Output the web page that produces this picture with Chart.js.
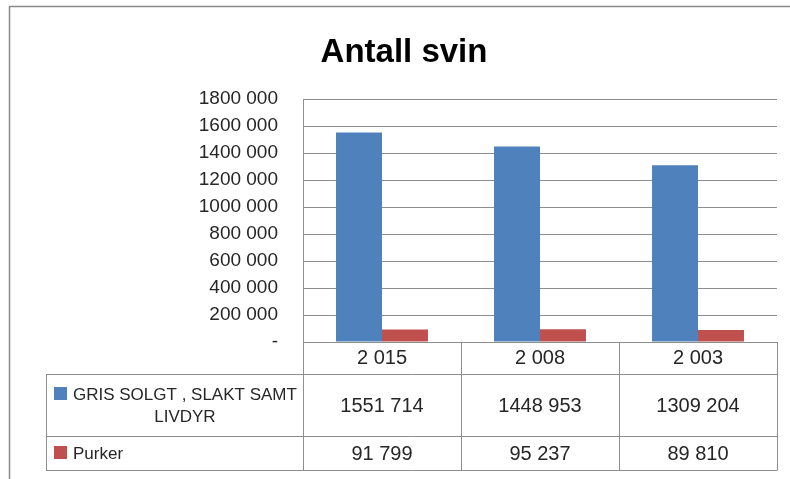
<!DOCTYPE html>
<html>
<head>
<meta charset="utf-8">
<script src="https://cdn.jsdelivr.net/npm/chart.js@4.4.0/dist/chart.umd.min.js"></script>
<style>
  html, body { margin: 0; padding: 0; background: #fff; }
  #wrap { position: relative; width: 790px; height: 479px; }
</style>
</head>
<body>
<div id="wrap"><canvas id="c" width="790" height="479"></canvas></div>
<script>
// data
const years = ['2 015', '2 008', '2 003'];
const grisSolgt = [1551714, 1448953, 1309204];
const purker = [91799, 95237, 89810];
const grisLabel = ['GRIS SOLGT , SLAKT SAMT', 'LIVDYR'];
const purkerLabel = 'Purker';
const chartTitle = 'Antall svin';

const BLUE = '#4F81BD';
const RED = '#C0504D';
const LINE = '#8e8e8e';
const TEXT = '#262626';
const FONT = '"Liberation Sans", Arial, sans-serif';

// Excel style "# ##0" as it shows here: only the last group is split off
function fmt(v) {
    if (v === 0) return '-';
    const hi = Math.floor(v / 1000);
    const lo = String(v % 1000).padStart(3, '0');
    return hi > 0 ? hi + ' ' + lo : String(v % 1000);
}

// frame, title and the data table under the plot
const tablePlugin = {
    id: 'dataTable',
    beforeDraw(chart) {
        const ctx = chart.ctx;
        ctx.save();
        ctx.fillStyle = '#fff';
        ctx.fillRect(0, 0, chart.width, chart.height);
        ctx.strokeStyle = '#8a8a8a';
        ctx.lineWidth = 1.5;
        ctx.beginPath();
        ctx.moveTo(9.5, chart.height);
        ctx.lineTo(9.5, 6.5);
        ctx.lineTo(chart.width, 6.5);
        ctx.stroke();
        ctx.restore();
    },
    afterDraw(chart) {
        const ctx = chart.ctx;
        const x = chart.scales.x;
        const area = chart.chartArea;
        const n = years.length;
        const bounds = [area.left];
        for (let i = 0; i < n - 1; i++) {
            bounds.push((x.getPixelForValue(i) + x.getPixelForValue(i + 1)) / 2);
        }
        bounds.push(area.right);

        const rowTop = area.bottom + 32;
        const rowMid = rowTop + 62;
        const rowBot = rowMid + 34;
        const tableLeft = 46;

        ctx.save();
        ctx.strokeStyle = LINE;
        ctx.lineWidth = 1;
        ctx.beginPath();
        bounds.forEach(b => {
            const bx = Math.round(b) + 0.5;
            ctx.moveTo(bx, area.bottom);
            ctx.lineTo(bx, rowBot);
        });
        [rowTop, rowMid, rowBot].forEach(y => {
            ctx.moveTo(tableLeft, y + 0.5);
            ctx.lineTo(Math.round(area.right) + 0.5, y + 0.5);
        });
        ctx.moveTo(tableLeft + 0.5, rowTop);
        ctx.lineTo(tableLeft + 0.5, rowBot);
        ctx.stroke();

        // values
        ctx.fillStyle = TEXT;
        ctx.font = '20px ' + FONT;
        ctx.textAlign = 'center';
        ctx.textBaseline = 'middle';
        for (let i = 0; i < n; i++) {
            const cx = x.getPixelForValue(i);
            ctx.fillText(fmt(grisSolgt[i]), cx, (rowTop + rowMid) / 2 + 1);
            ctx.fillText(fmt(purker[i]), cx, (rowMid + rowBot) / 2 + 1);
        }

        // series labels with their keys
        ctx.font = '17px ' + FONT;
        ctx.textAlign = 'left';
        ctx.fillStyle = BLUE;
        ctx.fillRect(54, rowTop + 13, 13, 13);
        ctx.fillStyle = TEXT;
        ctx.fillText(grisLabel[0], 73, rowTop + 21);
        const w0 = ctx.measureText(grisLabel[0]).width;
        ctx.textAlign = 'center';
        ctx.fillText(grisLabel[1], 73 + w0 / 2, rowTop + 43);

        ctx.fillStyle = RED;
        ctx.fillRect(54, rowMid + 10, 13, 13);
        ctx.fillStyle = TEXT;
        ctx.textAlign = 'left';
        ctx.fillText(purkerLabel, 73, (rowMid + rowBot) / 2 + 1);

        // title
        ctx.fillStyle = '#000';
        ctx.font = 'bold 33px ' + FONT;
        ctx.textAlign = 'center';
        ctx.textBaseline = 'alphabetic';
        ctx.fillText(chartTitle, 404, 62);
        ctx.restore();
    }
};

new Chart(document.getElementById('c'), {
    type: 'bar',
    data: {
        labels: years,
        datasets: [
            { label: grisLabel.join(' '), data: grisSolgt, backgroundColor: BLUE,
              categoryPercentage: 0.582, barPercentage: 1 },
            { label: purkerLabel, data: purker, backgroundColor: RED,
              categoryPercentage: 0.582, barPercentage: 1 }
        ]
    },
    options: {
        responsive: false,
        animation: false,
        layout: { padding: { top: 99, right: 13, left: 0, bottom: 0 } },
        plugins: {
            legend: { display: false },
            title: { display: false },
            tooltip: { enabled: false }
        },
        scales: {
            x: {
                grid: { display: false, drawTicks: false },
                border: { display: true, color: LINE },
                ticks: { color: TEXT, font: { family: FONT, size: 20 }, padding: 4, maxRotation: 0 },
                afterFit(scale) { scale.height = 479 - 342; }
            },
            y: {
                min: 0,
                max: 1800000,
                grid: { color: LINE, drawTicks: false },
                border: { display: true, color: LINE },
                ticks: {
                    stepSize: 200000,
                    color: TEXT,
                    padding: 25,
                    font: { family: FONT, size: 19 },
                    callback: v => fmt(v)
                },
                afterFit(scale) { scale.width = 303; }
            }
        }
    },
    plugins: [tablePlugin]
});
</script>
</body>
</html>
